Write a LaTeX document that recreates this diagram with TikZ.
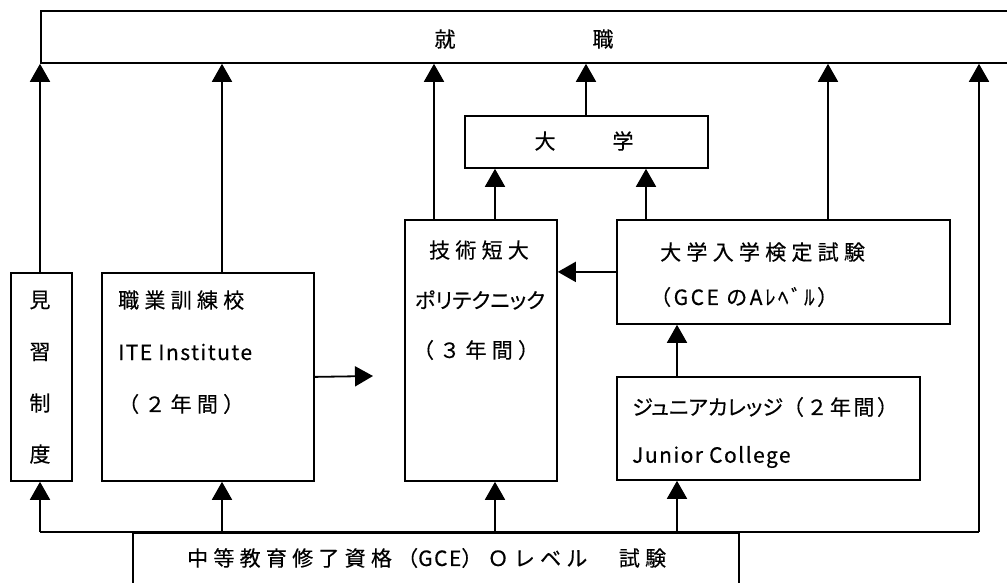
\documentclass[tikz,border=0pt]{standalone}
\usepackage{fontspec}
\setmainfont{Noto Sans CJK JP}[FakeBold=0.4]
\newfontfamily\jpw{Noto Sans CJK JP}[LetterSpace=25,FakeBold=0.4]
\newfontfamily\jpm{Noto Sans CJK JP}[LetterSpace=12,FakeBold=0.4]
\newfontfamily\jpl{Noto Sans CJK JP}[LetterSpace=7,FakeBold=0.4]
\newfontfamily\jpp{Noto Sans CJK JP}[RawFeature=+palt,FakeBold=0.4]
\usetikzlibrary{arrows.meta}
\begin{document}
\begin{tikzpicture}[x=1pt,y=-1pt,
  box/.style={draw, line width=1.8pt, inner sep=0pt, anchor=north west},
  arr/.style={line width=1.8pt, -{Triangle[width=20pt,length=18pt]}},
  ln/.style={line width=1.8pt},
  lbl/.style={inner sep=0pt, anchor=west, font=\fontsize{21}{25}\selectfont},
  clbl/.style={lbl, anchor=center}]
\clip (0,0) rectangle (1007,583);
% boxes
\node[box, minimum width=980pt, minimum height=52pt] (job) at (40,10) {};
\node[box, minimum width=61pt, minimum height=208pt] (mina) at (10,272) {};
\node[box, minimum width=212pt, minimum height=208pt] (voc) at (101,272) {};
\node[box, minimum width=152pt, minimum height=261pt] (poly) at (404,219) {};
\node[box, minimum width=243pt, minimum height=52pt] (univ) at (464,115) {};
\node[box, minimum width=333pt, minimum height=104pt] (alevel) at (616,219) {};
\node[box, minimum width=303pt, minimum height=103pt] (jc) at (616,376) {};
\node[box, minimum width=606pt, minimum height=80pt] (exam) at (132,532) {};
% texts
\node[clbl] (t1) at (445,39) {就};
\node[clbl] (t2) at (603,39) {職};
\node[clbl] (m1) at (40,300) {見};
\node[clbl] (m2) at (40,352) {習};
\node[clbl] (m3) at (40,403) {制};
\node[clbl] (m4) at (40,454) {度};
\node[lbl] (v1) at (118,300) {\jpw 職業訓練校};
\node[lbl] (v2) at (118,352) {\jpl ITE Institute};
\node[lbl] (v3) at (118,404) {\jpw （２年間）};
\node[clbl] (p1) at (479,250) {\jpw 技術短大};
\node[clbl] (p2) at (480,300) {\jpp ポリテクニック};
\node[clbl] (p3) at (476,350) {\jpw （３年間）};
\node[clbl] (u1) at (545,141) {大};
\node[clbl] (u2) at (623,141) {学};
\node[lbl] (a1) at (660,252) {\jpw 大学入学検定試験};
\node[lbl] (a2) at (650,297) {\jpm （GCE のAﾚﾍﾞﾙ）};
\node[lbl] (j1) at (632,407) {\jpp ジュニアカレッジ\jpm （２年間）};
\node[lbl] (j2) at (632,457) {\jpl Junior College};
\node[lbl] (e1) at (187,558) {\jpw 中等教育修了資格（\jpl GCE\jpw ）Ｏレベル　試験};
% columns
\coordinate (xa) at (40,0);
\coordinate (xb) at (222,0);
\coordinate (xc) at (434,0);
\coordinate (xd) at (495,0);
\coordinate (xe) at (586,0);
\coordinate (xf) at (646,0);
\coordinate (xg) at (677,0);
\coordinate (xh) at (828,0);
\coordinate (xi) at (979,0);
\coordinate (vend) at (373,376);
% connectors to job
\draw[arr] (xa |- mina.north) -- (xa |- job.south);
\draw[arr] (xb |- voc.north) -- (xb |- job.south);
\draw[arr] (xc |- poly.north) -- (xc |- job.south);
\draw[arr] (xe |- univ.north) -- (xe |- job.south);
\draw[arr] (xh |- alevel.north) -- (xh |- job.south);
\draw[arr] (xi |- exam.north) -- (xi |- job.south);
% to univ
\draw[arr] (xd |- poly.north) -- (xd |- univ.south);
\draw[arr] (xf |- alevel.north) -- (xf |- univ.south);
% others
\draw[arr] (alevel.west) -- (alevel.west -| poly.east);
\draw[arr] (xg |- jc.north) -- (xg |- alevel.south);
\draw[arr] (voc.east) -- (vend);
% bottom
\draw[ln] (xa |- exam.north) -- (xi |- exam.north);
\draw[arr] (xa |- exam.north) -- (xa |- mina.south);
\draw[arr] (xb |- exam.north) -- (xb |- voc.south);
\draw[arr] (xd |- exam.north) -- (xd |- poly.south);
\draw[arr] (xg |- exam.north) -- (xg |- jc.south);
\end{tikzpicture}
\end{document}
